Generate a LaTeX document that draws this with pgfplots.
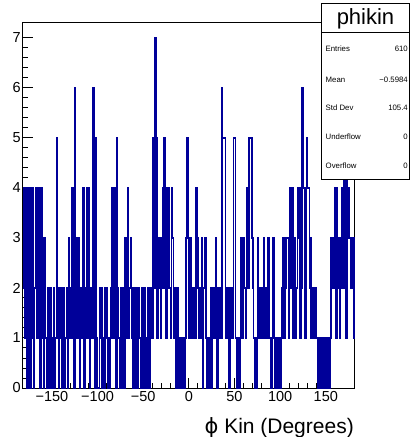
\documentclass[border=0pt]{standalone}
\usepackage{fontspec}
\setmainfont{Liberation Sans}
\newfontfamily\dejavu{DejaVu Sans}
\usepackage{pgfplots}
\usepackage{pgfplotstable}
\pgfplotsset{compat=1.18}
\definecolor{rootblue}{RGB}{0,0,153}
% bin contents, 1-degree bins from -182 to 181 (last value repeated to close the step at 182)
\pgfplotstableread[row sep=\\]{
y\\
2\\4\\1\\4\\1\\0\\4\\1\\0\\4\\
1\\4\\0\\2\\4\\1\\2\\4\\1\\0\\
4\\1\\3\\0\\3\\1\\0\\2\\1\\0\\
2\\1\\0\\1\\2\\0\\1\\5\\1\\0\\
2\\1\\2\\0\\1\\2\\0\\1\\2\\0\\
3\\1\\2\\1\\4\\1\\0\\6\\1\\3\\
1\\3\\0\\2\\1\\2\\4\\0\\2\\1\\
4\\1\\4\\0\\2\\1\\2\\6\\1\\0\\
5\\1\\0\\0\\2\\1\\2\\0\\1\\0\\
2\\1\\2\\0\\1\\0\\2\\1\\4\\1\\
4\\3\\0\\5\\2\\1\\0\\2\\0\\1\\
2\\0\\3\\1\\2\\4\\1\\2\\3\\1\\
2\\0\\2\\1\\0\\2\\0\\2\\1\\0\\
2\\1\\0\\2\\0\\1\\0\\2\\2\\0\\
2\\1\\1\\5\\2\\7\\5\\1\\3\\2\\
3\\1\\3\\2\\4\\5\\2\\1\\4\\2\\
4\\2\\1\\4\\3\\1\\2\\1\\0\\2\\
1\\0\\1\\1\\0\\1\\1\\0\\1\\3\\
5\\3\\1\\2\\3\\1\\2\\1\\2\\1\\
4\\3\\2\\1\\2\\1\\3\\0\\2\\3\\
3\\1\\0\\1\\0\\1\\2\\0\\2\\1\\
2\\3\\1\\0\\2\\1\\2\\1\\6\\5\\
5\\5\\2\\1\\2\\1\\0\\2\\1\\2\\
1\\5\\5\\1\\0\\1\\0\\0\\1\\3\\
3\\1\\3\\2\\1\\2\\4\\2\\5\\5\\
5\\3\\2\\1\\0\\1\\0\\3\\1\\2\\
2\\1\\2\\1\\3\\2\\1\\2\\1\\3\\
1\\1\\0\\1\\3\\1\\0\\1\\0\\1\\
0\\1\\0\\1\\2\\3\\1\\3\\2\\3\\
3\\1\\3\\4\\2\\4\\1\\3\\2\\1\\
2\\4\\3\\4\\1\\2\\6\\4\\4\\1\\
4\\5\\4\\4\\2\\3\\1\\2\\1\\2\\
2\\1\\1\\0\\1\\0\\1\\1\\0\\1\\
1\\0\\1\\1\\0\\1\\0\\1\\3\\2\\
2\\3\\4\\1\\4\\2\\3\\1\\3\\2\\
4\\2\\5\\4\\1\\5\\3\\4\\3\\2\\
3\\2\\3\\1\\1\\
}\hist
\begin{document}
\begin{tikzpicture}[x=1pt,y=1pt]
\useasboundingbox (0,0) rectangle (411,437);
\begin{axis}[at={(22.7pt,49pt)}, anchor=south west, scale only axis,
  width=332.3pt, height=365pt,
  xmin=-182, xmax=182, ymin=0, ymax=7.3,
  axis line style={line width=1pt},
  xtick={-150,-100,...,150},
  xticklabels={−150,−100,−50,0,50,100,150},
  ytick={0,...,7},
  minor x tick num=4, minor y tick num=4,
  tick align=inside, xtick pos=bottom, ytick pos=left,
  major tick length=10pt, minor tick length=5pt,
  every tick/.style={line width=1pt, black},
  ticklabel style={font=\fontsize{14.5}{14.5}\selectfont},
  /pgf/number format/assume math mode=true,
  yticklabel style={xshift=1.5pt},
  clip=true]
\addplot[const plot, rootblue, line width=1.6pt] table[x expr=\coordindex-182, y=y]{\hist};
\end{axis}
% statistics box
\draw[line width=1pt, fill=white] (321.5,433) rectangle (409.5,257);
\draw[line width=1pt] (321.5,404) -- (409.5,404);
\node[font=\fontsize{22}{22}\selectfont] at (365.5,418.5) {phikin};
\begin{scope}[every node/.style={font=\fontsize{7.8}{8}\selectfont, inner sep=0pt}]
\node[anchor=west] at (325.5,388) {Entries};   \node[anchor=east] at (408,388) {610};
\node[anchor=west] at (325.5,357) {Mean};      \node[anchor=east] at (408,357) {−0.5984};
\node[anchor=west] at (325.5,329) {Std Dev};   \node[anchor=east] at (408,329) {105.4};
\node[anchor=west] at (325.5,300) {Underflow}; \node[anchor=east] at (408,300) {0};
\node[anchor=west] at (325.5,271) {Overflow};  \node[anchor=east] at (408,271) {0};
\end{scope}
\node[anchor=base east, inner sep=0pt, font=\fontsize{21}{21}\selectfont] at (354,4) {{\dejavu ϕ} Kin (Degrees)};
\end{tikzpicture}
\end{document}
